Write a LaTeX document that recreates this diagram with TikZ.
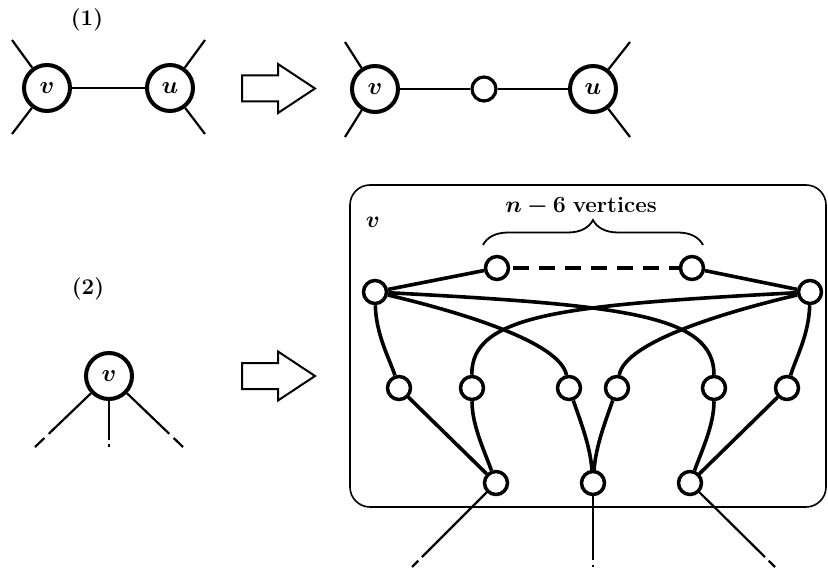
\documentclass[tikz,border=0pt]{standalone}
\usepackage{bm}
\usetikzlibrary{decorations.pathreplacing,calc}
% a short solid piece, a gap and a short dash at the free end of a half edge
\newcommand\dashstub[5][thin edge]{%
  \draw[#1] (#2) -- ($(#3)!#4!(#2)$);
  \draw[#1] ($(#3)!#5!(#2)$) -- (#3);}
% vertex name set inside a big circle
\newcommand\vname[1]{\scalebox{1.18}{$\bm{#1}$}}
\begin{document}
\begin{tikzpicture}[x=1pt,y=-1pt,
  font=\fontsize{20}{24}\selectfont,
  big/.style={circle,draw,line width=4pt,minimum size=46pt,inner sep=0pt},
  small/.style={circle,draw,line width=3.5pt,minimum size=23pt,inner sep=0pt},
  label text/.style={scale=1.12},
  thin edge/.style={line width=2.2pt},
  thick edge/.style={line width=3.6pt},
  fatarrow/.pic={\draw[line width=2pt,line join=miter]
    (0,-13) -- (36,-13) -- (36,-24.5) -- (73,0) -- (36,24.5) -- (36,13) -- (0,13) -- cycle;}
]
\useasboundingbox (0,0) rectangle (828,572);

% ---------- (1): subdividing the edge uv ----------
\node[label text] (lab1) at (87,20) {\textbf{(1)}};
\node[big] (v1) at (47,88) {\vname{v}};
\node[big] (u1) at (170,88) {\vname{u}};
\coordinate (v1a) at (12,40);  \coordinate (v1b) at (12,134);
\coordinate (u1a) at (205,40); \coordinate (u1b) at (205,134);
\draw[thin edge] (v1) -- (u1);
\draw[thin edge] (v1) -- (v1a);
\draw[thin edge] (v1) -- (v1b);
\draw[thin edge] (u1) -- (u1a);
\draw[thin edge] (u1) -- (u1b);

\pic at (242,88.5) {fatarrow};

\node[big] (v2) at (375,89) {\vname{v}};
\node[small,minimum size=24pt,line width=3.2pt] (w) at (484,89) {};
\node[big] (u2) at (593,89) {\vname{u}};
\coordinate (v2a) at (345,42);  \coordinate (v2b) at (345,137);
\coordinate (u2a) at (630,42);  \coordinate (u2b) at (630,137);
\draw[thin edge] (v2) -- (w);
\draw[thin edge] (w) -- (u2);
\draw[thin edge] (v2) -- (v2a);
\draw[thin edge] (v2) -- (v2b);
\draw[thin edge] (u2) -- (u2a);
\draw[thin edge] (u2) -- (u2b);

% ---------- (2): replacing a vertex by a gadget ----------
\node[label text] (lab2) at (88,289) {\textbf{(2)}};
\node[big] (v3) at (109,376) {\vname{v}};
\coordinate (e1) at (35,447);
\coordinate (e2) at (109,447);
\coordinate (e3) at (183,447);
\dashstub{v3}{e1}{19pt}{13pt}
\dashstub{v3}{e2}{7pt}{3pt}
\dashstub{v3}{e3}{19pt}{13pt}

\pic at (242,376) {fatarrow};

% gadget frame
\draw[line width=1.6pt,rounded corners=20pt] (350,185) rectangle (826,507);
\node[label text] (glab) at (373,222) {$\bm{v}$};
\node[label text] (count) at (581,206) {$\bm{n-6}$ \textbf{vertices}};
\draw[line width=1.8pt,decorate,decoration={brace,amplitude=25pt}]
  (483,245) -- (703,245);

% gadget vertices
\node[small] (T1) at (497,268) {};
\node[small] (T2) at (692,268) {};
\node[small] (L)  at (375,292) {};
\node[small] (R)  at (810,292) {};
\node[small] (M1) at (399,388) {};
\node[small] (M2) at (472,388) {};
\node[small] (M3) at (569,388) {};
\node[small] (M4) at (617,388) {};
\node[small] (M5) at (714,388) {};
\node[small] (M6) at (787,388) {};
\node[small] (B1) at (496,483) {};
\node[small] (B2) at (593,483) {};
\node[small] (B3) at (690,483) {};

% gadget edges
\draw[thick edge] (L) -- (T1);
\draw[thick edge] (T2) -- (R);
\draw[thick edge,dash pattern=on 16pt off 10pt,shorten <=3pt] (T1) -- (T2);
\draw[thick edge] (L) .. controls (620,305) and (714,314) .. (M5);
\draw[thick edge] (R) .. controls (565,305) and (471,314) .. (M2);
\draw[thick edge] (L) .. controls (460,312) and (560,342) .. (M3);
\draw[thick edge] (R) .. controls (725,312) and (625,342) .. (M4);
\draw[thick edge] (L) .. controls (376,335) and (390,360) .. (M1);
\draw[thick edge] (R) .. controls (809,335) and (795,360) .. (M6);
\draw[thick edge] (M1) -- (B1);
\draw[thick edge] (M2) .. controls (472,425) and (484,450) .. (B1);
\draw[thick edge] (M3) .. controls (580,420) and (590,445) .. (B2);
\draw[thick edge] (M4) .. controls (606,420) and (596,445) .. (B2);
\draw[thick edge] (M5) .. controls (714,425) and (702,450) .. (B3);
\draw[thick edge] (M6) -- (B3);

% half edges leaving the gadget
\coordinate (f1) at (412,567);
\coordinate (f2) at (593,567);
\coordinate (f3) at (775,567);
\dashstub{B1}{f1}{14pt}{9pt}
\dashstub{B2}{f2}{7pt}{2pt}
\dashstub{B3}{f3}{14pt}{9pt}
\end{tikzpicture}
\end{document}
